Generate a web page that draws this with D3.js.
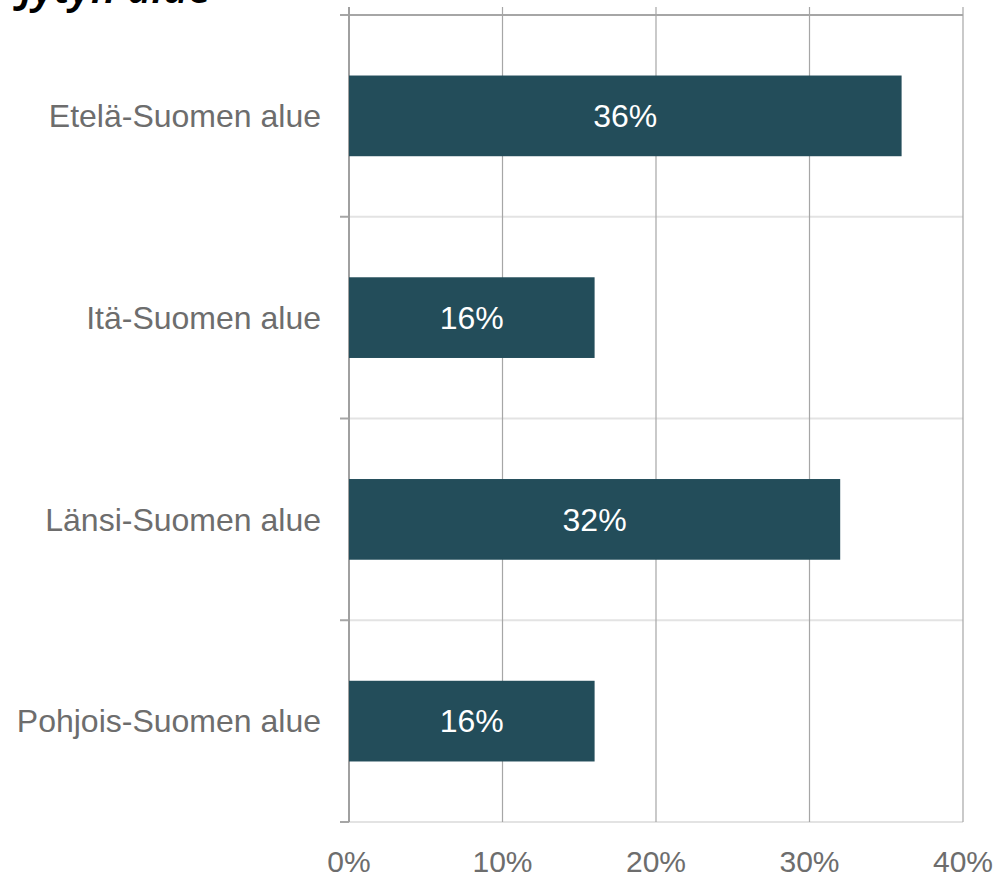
<!DOCTYPE html>
<html>
<head>
<meta charset="utf-8">
<script src="https://cdn.jsdelivr.net/npm/d3@7"></script>
<style>
  body { margin: 0; background: #fff; }
  text { font-family: "Liberation Sans", Arial, sans-serif; }
</style>
</head>
<body>
<div id="chart"></div>
<script>
// data
var categories = ["Etelä-Suomen alue", "Itä-Suomen alue", "Länsi-Suomen alue", "Pohjois-Suomen alue"];
var values = [0.36, 0.16, 0.32, 0.16];
var ticks = [0, 0.1, 0.2, 0.3, 0.4];

var width = 1008, height = 877;
// note: "top" is taken by window.top, so use other names
var plotLeft = 349, plotRight = 963, plotTop = 15, plotBottom = 822;

var svg = d3.select("#chart").append("svg")
  .attr("width", width)
  .attr("height", height);

var x = d3.scaleLinear().domain([0, 0.4]).range([plotLeft, plotRight]);
var y = d3.scaleBand().domain(categories).range([plotTop, plotBottom])
  .paddingInner(0.6).paddingOuter(0.3);

var fmt = d3.format(".0%");

// cropped title at the top
svg.append("text")
  .attr("x", 20).attr("y", 3)
  .style("font-family", "'Noto Sans', sans-serif")
  .style("font-size", "42px")
  .style("font-weight", "600")
  .style("font-style", "italic")
  .attr("fill", "#000")
  .text("Jytyn alue");

// category separators
var step = y.step();
var bounds = d3.range(categories.length + 1).map(function(i) { return plotTop + i * step; });

svg.selectAll(".sep")
  .data(bounds)
  .enter().append("line")
  .attr("x1", plotLeft).attr("x2", plotRight)
  .attr("y1", function(d) { return d; })
  .attr("y2", function(d) { return d; })
  .attr("stroke", function(d, i) { return i == 0 ? "#a6a6a6" : "#e3e3e3"; })
  .attr("stroke-width", 2);

// tick marks on the category axis
svg.selectAll(".ytick")
  .data(bounds)
  .enter().append("line")
  .attr("x1", plotLeft - 9).attr("x2", plotLeft)
  .attr("y1", function(d) { return d; })
  .attr("y2", function(d) { return d; })
  .attr("stroke", "#a6a6a6")
  .attr("stroke-width", 2);

// vertical gridlines
svg.selectAll(".grid")
  .data(ticks)
  .enter().append("line")
  .attr("x1", function(d) { return x(d); })
  .attr("x2", function(d) { return x(d); })
  .attr("y1", plotTop - 8).attr("y2", plotBottom)
  .attr("stroke", function(d, i) { return i == 0 ? "#a0a0a0" : "#a6a6a6"; })
  .attr("stroke-width", function(d, i) { return i == 0 ? 2 : 1.2; });

// bars
svg.selectAll(".bar")
  .data(values)
  .enter().append("rect")
  .attr("x", x(0))
  .attr("y", function(d, i) { return y(categories[i]); })
  .attr("width", function(d) { return x(d) - x(0); })
  .attr("height", y.bandwidth())
  .attr("fill", "#234d5a");

// value labels
svg.selectAll(".val")
  .data(values)
  .enter().append("text")
  .attr("x", function(d) { return (x(0) + x(d)) / 2; })
  .attr("y", function(d, i) { return y(categories[i]) + y.bandwidth() / 2; })
  .attr("dy", ".35em")
  .attr("text-anchor", "middle")
  .attr("fill", "#fff")
  .style("font-size", "32px")
  .text(function(d) { return fmt(d); });

// category labels
svg.selectAll(".cat")
  .data(categories)
  .enter().append("text")
  .attr("x", 321)
  .attr("y", function(d) { return y(d) + y.bandwidth() / 2; })
  .attr("dy", ".35em")
  .attr("text-anchor", "end")
  .attr("fill", "#6d6d6d")
  .style("font-size", "32px")
  .text(function(d) { return d; });

// x tick labels
svg.selectAll(".xlab")
  .data(ticks)
  .enter().append("text")
  .attr("x", function(d) { return x(d); })
  .attr("y", 872)
  .attr("text-anchor", "middle")
  .attr("fill", "#6d6d6d")
  .style("font-size", "30px")
  .text(function(d) { return fmt(d); });
</script>
</body>
</html>
